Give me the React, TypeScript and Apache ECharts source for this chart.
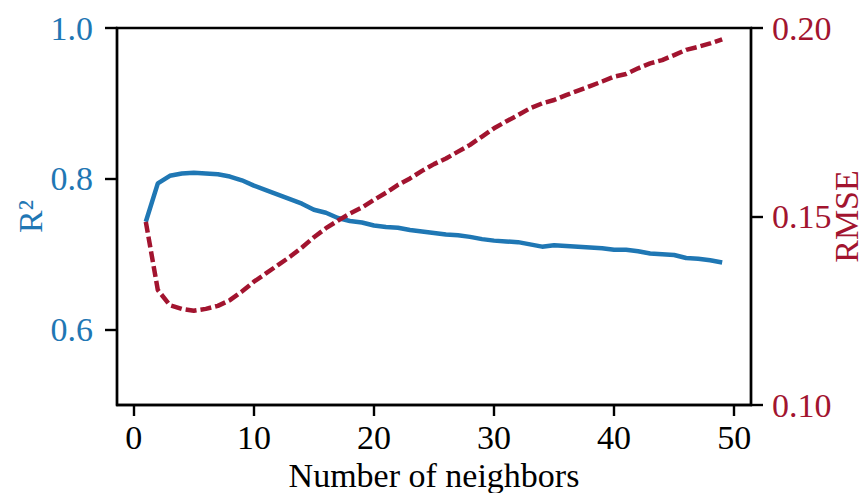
import React, { useEffect, useRef } from "react";
import * as echarts from "echarts";

const neighbors = [
  1, 2, 3, 4, 5, 6, 7, 8, 9, 10, 11, 12, 13, 14, 15, 16, 17, 18, 19, 20, 21, 22, 23, 24, 25,
  26, 27, 28, 29, 30, 31, 32, 33, 34, 35, 36, 37, 38, 39, 40, 41, 42, 43, 44, 45, 46, 47, 48, 49,
];

const r2Values = [
  0.743, 0.794, 0.804, 0.807, 0.808, 0.807, 0.806, 0.803, 0.798, 0.791, 0.785, 0.779, 0.773,
  0.767, 0.759, 0.755, 0.748, 0.744, 0.742, 0.738, 0.736, 0.735, 0.732, 0.73, 0.728, 0.726,
  0.725, 0.723, 0.72, 0.718, 0.717, 0.716, 0.713, 0.71, 0.712, 0.711, 0.71, 0.709, 0.708,
  0.706, 0.706, 0.704, 0.701, 0.7, 0.699, 0.695, 0.694, 0.692, 0.689,
];

const rmseValues = [
  0.1486, 0.1305, 0.1265, 0.1255, 0.125, 0.1255, 0.1263, 0.1278, 0.1301, 0.1327, 0.1349,
  0.1371, 0.1393, 0.1418, 0.1445, 0.1469, 0.1489, 0.1508, 0.1524, 0.1544, 0.1563, 0.1584,
  0.1601, 0.1621, 0.1639, 0.1654, 0.1672, 0.169, 0.1712, 0.1734, 0.1752, 0.1769, 0.1787, 0.18,
  0.1809, 0.1822, 0.1834, 0.1846, 0.1858, 0.1871, 0.1878, 0.1893, 0.1906, 0.1915, 0.1928,
  0.1942, 0.195, 0.1959, 0.197,
];

const xTicks = [0, 10, 20, 30, 40, 50];
const r2Ticks = [0.6, 0.8, 1.0];
const rmseTicks = [0.1, 0.15, 0.2];

const BLUE = "#1f77b4";
const RED = "#a2142f";
const FONT = "'Liberation Serif', 'Times New Roman', serif";
const FS = 34;

export default function App() {
  const ref = useRef<HTMLDivElement>(null);
  useEffect(() => {
    if (!ref.current) return;
    const chart = echarts.init(ref.current, undefined, { renderer: "svg" });
    const axisLine = { show: true, onZero: false, lineStyle: { color: "#000", width: 2.4 } };
    chart.setOption({
      animation: false,
      backgroundColor: "#fff",
      textStyle: { fontFamily: FONT },
      grid: {
        left: 117,
        right: 113,
        top: 28,
        bottom: 88,
        show: true,
        borderColor: "#000",
        borderWidth: 2.4,
        outerBoundsMode: "none",
        containLabel: false,
      },
      xAxis: {
        type: "value",
        min: -1.4,
        max: 51.4,
        name: "Number of neighbors",
        nameLocation: "middle",
        nameGap: 42,
        nameTextStyle: { fontFamily: FONT, fontSize: FS, color: "#000" },
        axisLine,
        axisTick: { show: true, length: 11, lineStyle: { color: "#000", width: 2.4 }, customValues: xTicks },
        axisLabel: {
          customValues: xTicks,
          margin: 15,
          fontFamily: FONT,
          fontSize: FS,
          color: "#000",
          formatter: (v: number) => String(v),
        },
        splitLine: { show: false },
      },
      yAxis: [
        {
          type: "value",
          position: "left",
          min: 0.5,
          max: 1.0,
          name: "R²",
          nameLocation: "middle",
          nameRotate: 90,
          nameGap: 70,
          nameMoveOverlap: false,
          nameTextStyle: { fontFamily: FONT, fontSize: FS, color: BLUE },
          axisLine,
          axisTick: { show: true, length: 12, lineStyle: { color: "#000", width: 2.4 }, customValues: r2Ticks },
          axisLabel: {
            customValues: r2Ticks,
            margin: 24,
            fontFamily: FONT,
            fontSize: FS,
            color: BLUE,
            formatter: (v: number) => v.toFixed(1),
          },
          splitLine: { show: false },
        },
        {
          type: "value",
          position: "right",
          min: 0.1,
          max: 0.2,
          name: "RMSE",
          nameLocation: "middle",
          nameRotate: 90,
          nameGap: 83,
          nameMoveOverlap: false,
          nameTextStyle: { fontFamily: FONT, fontSize: FS, color: RED, lineHeight: 24 },
          axisLine,
          axisTick: { show: true, length: 12, lineStyle: { color: "#000", width: 2.4 }, customValues: rmseTicks },
          axisLabel: {
            customValues: rmseTicks,
            margin: 21,
            fontFamily: FONT,
            fontSize: FS,
            color: RED,
            formatter: (v: number) => v.toFixed(2),
          },
          splitLine: { show: false },
        },
      ],
      series: [
        {
          type: "line",
          yAxisIndex: 0,
          data: neighbors.map((n, i) => [n, r2Values[i]]),
          showSymbol: false,
          lineStyle: { color: BLUE, width: 4.5 },
          itemStyle: { color: BLUE },
          z: 2,
        },
        {
          type: "line",
          yAxisIndex: 1,
          data: neighbors.map((n, i) => [n, rmseValues[i]]),
          showSymbol: false,
          lineStyle: { color: RED, width: 4.5, type: [11, 4] },
          itemStyle: { color: RED },
          z: 3,
        },
      ],
    });
    return () => chart.dispose();
  }, []);
  return (
    <div
      ref={ref}
      style={{ position: "fixed", left: 0, top: 0, width: 864, height: 493 }}
    />
  );
}
